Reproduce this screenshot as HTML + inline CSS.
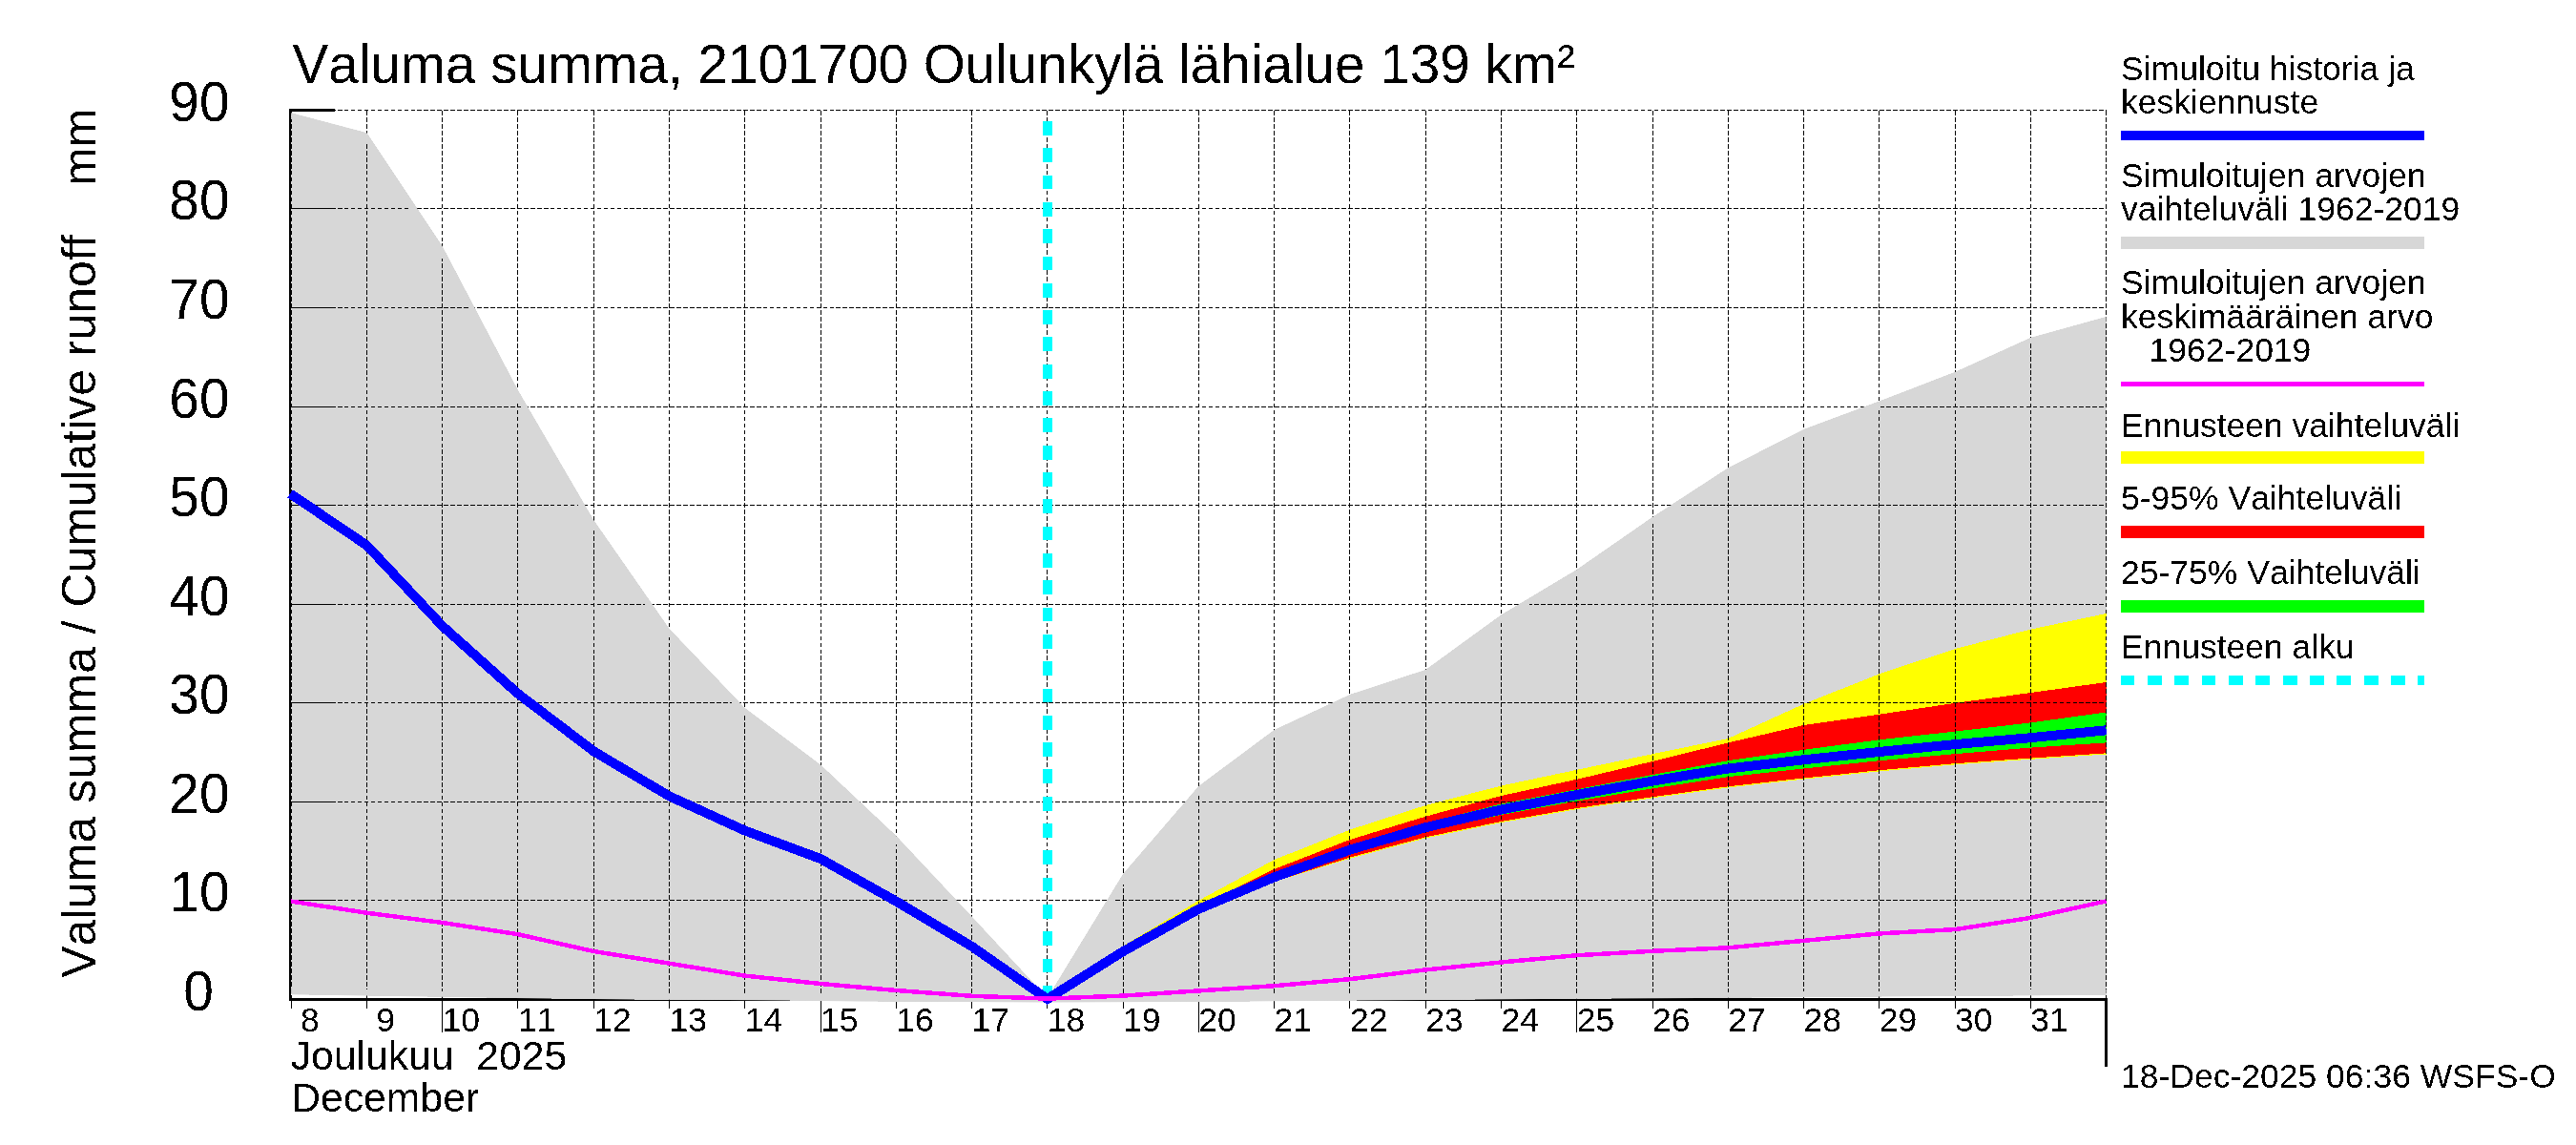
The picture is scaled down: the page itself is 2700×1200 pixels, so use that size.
<!DOCTYPE html>
<html lang="fi"><head><meta charset="utf-8"><title>Valuma summa</title>
<style>html,body{margin:0;padding:0;background:#fff}svg{display:block}text{font-family:"Liberation Sans",sans-serif;fill:#000;white-space:pre;font-kerning:none}</style></head><body>
<svg width="2700" height="1200" viewBox="0 0 2700 1200">
<rect width="2700" height="1200" fill="#fff"/>
<g shape-rendering="crispEdges" fill="#000">
<rect x="303" y="114" width="2" height="935"/>
<rect x="303" y="1046" width="1906" height="3"/>
<rect x="2206" y="1046" width="3" height="72"/>
<rect x="303" y="114" width="47.5" height="3"/>
<rect x="305" y="1046" width="1" height="10.5"/>
<rect x="384" y="1046" width="1" height="10.5"/>
<rect x="463" y="1046" width="1" height="36"/>
<rect x="542" y="1046" width="1" height="10.5"/>
<rect x="622" y="1046" width="1" height="10.5"/>
<rect x="701" y="1046" width="1" height="10.5"/>
<rect x="780" y="1046" width="1" height="10.5"/>
<rect x="860" y="1046" width="1" height="36"/>
<rect x="939" y="1046" width="1" height="10.5"/>
<rect x="1018" y="1046" width="1" height="10.5"/>
<rect x="1097" y="1046" width="1" height="10.5"/>
<rect x="1177" y="1046" width="1" height="10.5"/>
<rect x="1256" y="1046" width="1" height="36"/>
<rect x="1335" y="1046" width="1" height="10.5"/>
<rect x="1414" y="1046" width="1" height="10.5"/>
<rect x="1494" y="1046" width="1" height="10.5"/>
<rect x="1573" y="1046" width="1" height="10.5"/>
<rect x="1652" y="1046" width="1" height="36"/>
<rect x="1732" y="1046" width="1" height="10.5"/>
<rect x="1811" y="1046" width="1" height="10.5"/>
<rect x="1890" y="1046" width="1" height="10.5"/>
<rect x="1969" y="1046" width="1" height="10.5"/>
<rect x="2049" y="1046" width="1" height="10.5"/>
<rect x="2128" y="1046" width="1" height="10.5"/>
</g>
<clipPath id="gc"><polygon points="305.1,118.3 384.4,139.3 463.6,258 542.9,409 622.2,545 701.5,659 780.7,742 860.0,801.5 939.3,876 1018.5,960.5 1097.8,1046 1177.1,916 1256.3,824 1335.6,765 1414.9,728 1494.2,702 1573.4,644.5 1652.7,597 1732.0,542 1811.2,490.5 1890.5,450 1969.8,420.5 2049.0,390 2128.3,354 2207.6,332 2207.6,1042.8 1836,1045.5 1689,1046.5 1546,1047.5 1422,1048.5 1300,1049.6 1098,1050.5 900,1049.4 828,1048.5 665,1047.5 578,1046.5 540,1046 305.1,1042.2"/></clipPath>
<g shape-rendering="crispEdges">
<polygon fill="#d7d7d7" points="305.1,118.3 384.4,139.3 463.6,258 542.9,409 622.2,545 701.5,659 780.7,742 860.0,801.5 939.3,876 1018.5,960.5 1097.8,1046 1177.1,916 1256.3,824 1335.6,765 1414.9,728 1494.2,702 1573.4,644.5 1652.7,597 1732.0,542 1811.2,490.5 1890.5,450 1969.8,420.5 2049.0,390 2128.3,354 2207.6,332 2207.6,1042.8 1836,1045.5 1689,1046.5 1546,1047.5 1422,1048.5 1300,1049.6 1098,1050.5 900,1049.4 828,1048.5 665,1047.5 578,1046.5 540,1046 305.1,1042.2"/>
<polygon fill="#ffff00" points="1097.8,1047 1177.1,991.5 1256.3,943.8 1335.6,901 1414.9,869.6 1494.2,844 1573.4,823.5 1652.7,806.8 1732.0,790.2 1811.2,774 1890.5,737.8 1969.8,706.3 2049.0,680.1 2128.3,659.6 2207.6,643 2207.6,790.5 2128.3,795.8000000000001 2049.0,801.4000000000001 1969.8,808.4000000000001 1890.5,816.7 1811.2,825.5 1732.0,836.4000000000001 1652.7,848.2 1573.4,862.2 1494.2,878.5 1414.9,899.8000000000001 1335.6,924 1256.3,955 1177.1,998.5 1097.8,1047"/>
<polygon fill="#ff0000" points="1097.8,1047 1177.1,996.5 1256.3,950 1335.6,910.9 1414.9,880 1494.2,855.7 1573.4,834 1652.7,816.8 1732.0,798 1811.2,778.4 1890.5,760 1969.8,748.7 2049.0,736.9 2128.3,726 2207.6,715 2207.6,789.3 2128.3,794.6 2049.0,800.2 1969.8,807.2 1890.5,815.5 1811.2,824.3 1732.0,835.2 1652.7,847 1573.4,861 1494.2,877.3 1414.9,898.6 1335.6,924 1256.3,955 1177.1,998.5 1097.8,1047"/>
<polygon fill="#00ff00" points="1097.8,1047 1177.1,997 1256.3,952 1335.6,916 1414.9,887 1494.2,862.5 1573.4,842.5 1652.7,827.3 1732.0,812 1811.2,797.2 1890.5,785.8 1969.8,775.3 2049.0,766.6 2128.3,757.4 2207.6,746.5 2207.6,778.4 2128.3,783.6 2049.0,790.2 1969.8,797.2 1890.5,805.5 1811.2,814.2 1732.0,826.4 1652.7,839.5 1573.4,854 1494.2,871.5 1414.9,894 1335.6,922 1256.3,954 1177.1,998 1097.8,1047"/>
</g>
<g stroke="#000" stroke-width="1" stroke-dasharray="4.645 2.323" fill="none" shape-rendering="crispEdges">
<line x1="305.1" y1="943.5" x2="2207.6" y2="943.5"/>
<line x1="305.1" y1="840.5" x2="2207.6" y2="840.5"/>
<line x1="305.1" y1="736.5" x2="2207.6" y2="736.5"/>
<line x1="305.1" y1="633.5" x2="2207.6" y2="633.5"/>
<line x1="305.1" y1="529.5" x2="2207.6" y2="529.5"/>
<line x1="305.1" y1="426.5" x2="2207.6" y2="426.5"/>
<line x1="305.1" y1="322.5" x2="2207.6" y2="322.5"/>
<line x1="305.1" y1="218.5" x2="2207.6" y2="218.5"/>
<line x1="305.1" y1="115.5" x2="2207.6" y2="115.5"/>
<line x1="305.5" y1="1047.5" x2="305.5" y2="115.5"/>
<line x1="384.5" y1="1047.5" x2="384.5" y2="115.5"/>
<line x1="463.5" y1="1047.5" x2="463.5" y2="115.5"/>
<line x1="542.5" y1="1047.5" x2="542.5" y2="115.5"/>
<line x1="622.5" y1="1047.5" x2="622.5" y2="115.5"/>
<line x1="701.5" y1="1047.5" x2="701.5" y2="115.5"/>
<line x1="780.5" y1="1047.5" x2="780.5" y2="115.5"/>
<line x1="860.5" y1="1047.5" x2="860.5" y2="115.5"/>
<line x1="939.5" y1="1047.5" x2="939.5" y2="115.5"/>
<line x1="1018.5" y1="1047.5" x2="1018.5" y2="115.5"/>
<line x1="1097.5" y1="1047.5" x2="1097.5" y2="115.5"/>
<line x1="1177.5" y1="1047.5" x2="1177.5" y2="115.5"/>
<line x1="1256.5" y1="1047.5" x2="1256.5" y2="115.5"/>
<line x1="1335.5" y1="1047.5" x2="1335.5" y2="115.5"/>
<line x1="1414.5" y1="1047.5" x2="1414.5" y2="115.5"/>
<line x1="1494.5" y1="1047.5" x2="1494.5" y2="115.5"/>
<line x1="1573.5" y1="1047.5" x2="1573.5" y2="115.5"/>
<line x1="1652.5" y1="1047.5" x2="1652.5" y2="115.5"/>
<line x1="1732.5" y1="1047.5" x2="1732.5" y2="115.5"/>
<line x1="1811.5" y1="1047.5" x2="1811.5" y2="115.5"/>
<line x1="1890.5" y1="1047.5" x2="1890.5" y2="115.5"/>
<line x1="1969.5" y1="1047.5" x2="1969.5" y2="115.5"/>
<line x1="2049.5" y1="1047.5" x2="2049.5" y2="115.5"/>
<line x1="2128.5" y1="1047.5" x2="2128.5" y2="115.5"/>
<line x1="2207.5" y1="1047.5" x2="2207.5" y2="115.5"/>
</g>
<g clip-path="url(#gc)" fill="none" stroke="#d7d7d7" stroke-width="12" stroke-linejoin="round" shape-rendering="crispEdges"><polyline points="305.1,118.3 384.4,139.3 463.6,258 542.9,409 622.2,545 701.5,659 780.7,742 860.0,801.5 939.3,876 1018.5,960.5 1097.8,1046 1177.1,916 1256.3,824 1335.6,765 1414.9,728 1494.2,702 1573.4,644.5 1652.7,597 1732.0,542 1811.2,490.5 1890.5,450 1969.8,420.5 2049.0,390 2128.3,354 2207.6,332"/><polyline points="2207.6,1042.8 1836,1045.5 1689,1046.5 1546,1047.5 1422,1048.5 1300,1049.6 1098,1050.5 900,1049.4 828,1048.5 665,1047.5 578,1046.5 540,1046 305.1,1042.2"/></g>
<g fill="#000" shape-rendering="crispEdges">
<rect x="305" y="943" width="45.5" height="1"/>
<rect x="305" y="840" width="45.5" height="1"/>
<rect x="305" y="736" width="45.5" height="1"/>
<rect x="305" y="633" width="45.5" height="1"/>
<rect x="305" y="529" width="45.5" height="1"/>
<rect x="305" y="426" width="45.5" height="1"/>
<rect x="305" y="322" width="45.5" height="1"/>
<rect x="305" y="218" width="45.5" height="1"/>
</g>
<line x1="1098.0" y1="127" x2="1098.0" y2="1047.5" stroke="#00ffff" stroke-width="10.4" stroke-dasharray="14.8 13.51" shape-rendering="crispEdges"/>
<polyline fill="none" stroke="#0000ff" stroke-width="10" stroke-linejoin="miter" points="304.1,517.3 384.4,571.5 463.6,656 542.9,727 622.2,787.3 701.5,834.4 780.7,870.5 860.0,900 939.3,944.6 1018.5,991.8 1097.8,1047 1177.1,997.2 1256.3,952.8 1335.6,919.3 1414.9,890.6 1494.2,867.2 1573.4,848.5 1652.7,833 1732.0,818.6 1811.2,805.5 1890.5,796.3 1969.8,788 2049.0,780.1 2128.3,773.2 2207.6,765.3" shape-rendering="crispEdges"/>
<polyline fill="none" stroke="#ff00ff" stroke-width="4.5" stroke-linejoin="round" points="305.1,944.6 384.4,956.7 463.6,967 542.9,979.2 622.2,997 701.5,1009.7 780.7,1022.6 860.0,1031 939.3,1038 1018.5,1043.8 1097.8,1046.6 1177.1,1043.6 1256.3,1038.4 1335.6,1033.2 1414.9,1026.2 1494.2,1016.4 1573.4,1008.5 1652.7,1001.2 1732.0,996.8 1811.2,993.3 1890.5,985.9 1969.8,978.4 2049.0,974.1 2128.3,961.9 2207.6,944.4" shape-rendering="crispEdges"/>
<filter id="bw" filterUnits="userSpaceOnUse" x="0" y="0" width="2700" height="1200" color-interpolation-filters="sRGB"><feComponentTransfer><feFuncA type="discrete" tableValues="0 1"/></feComponentTransfer></filter>
<g filter="url(#bw)">
<text x="306.5" y="87" font-size="56.65">Valuma summa, 2101700 Oulunkylä lähialue 139 km²</text>
<text transform="translate(240.5,954.7) scale(1,1.03)" font-size="56.8" text-anchor="end">10</text>
<text transform="translate(240.5,851.7) scale(1,1.03)" font-size="56.8" text-anchor="end">20</text>
<text transform="translate(240.5,747.7) scale(1,1.03)" font-size="56.8" text-anchor="end">30</text>
<text transform="translate(240.5,644.7) scale(1,1.03)" font-size="56.8" text-anchor="end">40</text>
<text transform="translate(240.5,540.7) scale(1,1.03)" font-size="56.8" text-anchor="end">50</text>
<text transform="translate(240.5,437.7) scale(1,1.03)" font-size="56.8" text-anchor="end">60</text>
<text transform="translate(240.5,333.7) scale(1,1.03)" font-size="56.8" text-anchor="end">70</text>
<text transform="translate(240.5,229.7) scale(1,1.03)" font-size="56.8" text-anchor="end">80</text>
<text transform="translate(240.5,126.7) scale(1,1.03)" font-size="56.8" text-anchor="end">90</text>
<text transform="translate(192.2,1058.7) scale(1,1.03)" font-size="56.8">0</text>
<text transform="translate(99.5,1024.7) rotate(-90)" font-size="49.9">Valuma summa / Cumulative runoff</text>
<text transform="translate(99.5,194.8) rotate(-90)" font-size="48.6">mm</text>
<text x="305.1" y="1080.7" font-size="35.5" xml:space="preserve"> 8</text>
<text x="384.4" y="1080.7" font-size="35.5" xml:space="preserve"> 9</text>
<text x="463.6" y="1080.7" font-size="35.5" xml:space="preserve">10</text>
<text x="542.9" y="1080.7" font-size="35.5" xml:space="preserve">11</text>
<text x="622.2" y="1080.7" font-size="35.5" xml:space="preserve">12</text>
<text x="701.5" y="1080.7" font-size="35.5" xml:space="preserve">13</text>
<text x="780.7" y="1080.7" font-size="35.5" xml:space="preserve">14</text>
<text x="860.0" y="1080.7" font-size="35.5" xml:space="preserve">15</text>
<text x="939.3" y="1080.7" font-size="35.5" xml:space="preserve">16</text>
<text x="1018.5" y="1080.7" font-size="35.5" xml:space="preserve">17</text>
<text x="1097.8" y="1080.7" font-size="35.5" xml:space="preserve">18</text>
<text x="1177.1" y="1080.7" font-size="35.5" xml:space="preserve">19</text>
<text x="1256.3" y="1080.7" font-size="35.5" xml:space="preserve">20</text>
<text x="1335.6" y="1080.7" font-size="35.5" xml:space="preserve">21</text>
<text x="1414.9" y="1080.7" font-size="35.5" xml:space="preserve">22</text>
<text x="1494.2" y="1080.7" font-size="35.5" xml:space="preserve">23</text>
<text x="1573.4" y="1080.7" font-size="35.5" xml:space="preserve">24</text>
<text x="1652.7" y="1080.7" font-size="35.5" xml:space="preserve">25</text>
<text x="1732.0" y="1080.7" font-size="35.5" xml:space="preserve">26</text>
<text x="1811.2" y="1080.7" font-size="35.5" xml:space="preserve">27</text>
<text x="1890.5" y="1080.7" font-size="35.5" xml:space="preserve">28</text>
<text x="1969.8" y="1080.7" font-size="35.5" xml:space="preserve">29</text>
<text x="2049.0" y="1080.7" font-size="35.5" xml:space="preserve">30</text>
<text x="2128.3" y="1080.7" font-size="35.5" xml:space="preserve">31</text>
<text x="304.7" y="1121" font-size="42.7" xml:space="preserve">Joulukuu  2025</text>
<text x="305.2" y="1164.7" font-size="42.7">December</text>
<text x="2223" y="1139.5" font-size="35.5">18-Dec-2025 06:36 WSFS-O</text>
<text x="2223" y="83.75" font-size="35.5" xml:space="preserve">Simuloitu historia ja</text>
<text x="2223" y="118.5" font-size="35.5" xml:space="preserve">keskiennuste</text>
<text x="2223" y="196" font-size="35.5" xml:space="preserve">Simuloitujen arvojen</text>
<text x="2223" y="230.8" font-size="35.5" xml:space="preserve">vaihteluväli 1962-2019</text>
<text x="2223" y="308" font-size="35.5" xml:space="preserve">Simuloitujen arvojen</text>
<text x="2223" y="344.2" font-size="35.5" xml:space="preserve">keskimääräinen arvo</text>
<text x="2223" y="379" font-size="35.5" xml:space="preserve">   1962-2019</text>
<text x="2223" y="458" font-size="35.5" xml:space="preserve">Ennusteen vaihteluväli</text>
<text x="2223" y="533.7" font-size="35.5" xml:space="preserve">5-95% Vaihteluväli</text>
<text x="2223" y="611.7" font-size="35.5" xml:space="preserve">25-75% Vaihteluväli</text>
<text x="2223" y="690.3" font-size="35.5" xml:space="preserve">Ennusteen alku</text>
</g>
<g shape-rendering="crispEdges">
<rect x="2223" y="137" width="318" height="10" fill="#0000ff"/>
<rect x="2223" y="248" width="318" height="12.5" fill="#d7d7d7"/>
<rect x="2223" y="400" width="318" height="4.5" fill="#ff00ff"/>
<rect x="2223" y="473" width="318" height="12.5" fill="#ffff00"/>
<rect x="2223" y="551" width="318" height="12.5" fill="#ff0000"/>
<rect x="2223" y="629" width="318" height="12.5" fill="#00ff00"/>
<line x1="2222.6" y1="713" x2="2541" y2="713" stroke="#00ffff" stroke-width="10" stroke-dasharray="14.8 13.55"/>
</g>
</svg></body></html>
